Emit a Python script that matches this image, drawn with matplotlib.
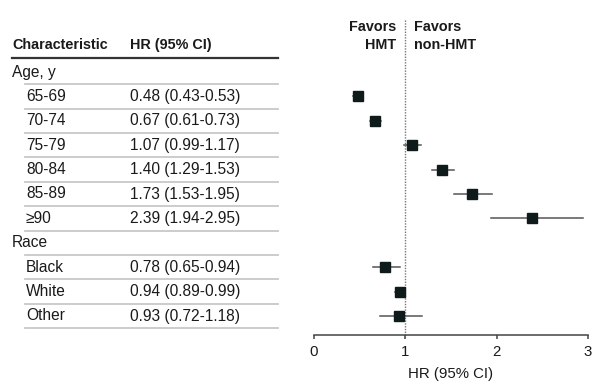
import matplotlib.pyplot as plt
from matplotlib.lines import Line2D
from matplotlib.transforms import blended_transform_factory
from matplotlib import font_manager

# data
labels = ['65-69', '70-74', '75-79', '80-84', '85-89', '\u226590', 'Black', 'White', 'Other']
groups = ['Age, y', 'Race']
group_sizes = [6, 3]
hr = [0.48, 0.67, 1.07, 1.40, 1.73, 2.39, 0.78, 0.94, 0.93]
lo = [0.43, 0.61, 0.99, 1.29, 1.53, 1.94, 0.65, 0.89, 0.72]
hi = [0.53, 0.73, 1.17, 1.53, 1.95, 2.95, 0.94, 0.99, 1.18]
x_ticks = [0, 1, 2, 3]

names = {f.name for f in font_manager.fontManager.ttflist}
fam = 'Liberation Sans Narrow' if 'Liberation Sans Narrow' in names else 'Liberation Sans'
plt.rcParams['font.family'] = [fam, 'DejaVu Sans']

txt = '#1a1a1a'
fs = 11.2   # body text
hfs = 10.4  # bold headers
afs = 10.8  # axis text
fig = plt.figure(figsize=(6, 3.87), dpi=100)
ax = fig.add_axes([314 / 600, 52 / 387, 274 / 600, 335 / 387])
ax.set_xlim(0, 3)
ax.set_ylim(335, 0)  # y in pixel rows from top

# build row list
rows = []
k = 0
for g, n in zip(groups, group_sizes):
    rows.append(('group', g, None))
    for j in range(n):
        rows.append(('item', labels[k], k))
        k += 1

row_h = 24.4
y0 = 72
tr = blended_transform_factory(fig.transFigure, ax.transData)

# header
fig.text(12 / 600, 1 - 45 / 387, 'Characteristic', fontsize=hfs, fontweight='bold', color=txt, va='center')
fig.text(130 / 600, 1 - 45 / 387, 'HR (95% CI)', fontsize=hfs, fontweight='bold', color=txt, va='center')
fig.add_artist(Line2D([12 / 600, 278 / 600], [1 - 58 / 387] * 2, color='#333333', lw=1.6))

for i, (kind, name, idx) in enumerate(rows):
    y = y0 + i * row_h
    if kind == 'group':
        ax.text(12 / 600, y, name, transform=tr, fontsize=fs, color=txt, va='center')
    else:
        ax.text(26 / 600, y, name, transform=tr, fontsize=fs, color=txt, va='center')
        ax.text(130 / 600, y, f'{hr[idx]:.2f} ({lo[idx]:.2f}-{hi[idx]:.2f})', transform=tr,
                fontsize=fs, color=txt, va='center')
        ax.plot([lo[idx], hi[idx]], [y, y], color='#555555', lw=1.1, zorder=2)
        ax.plot(hr[idx], y, 's', color='#0f1a1a', ms=7.8, zorder=3)
    ax.add_artist(Line2D([25 / 600, 278 / 600], [y + row_h / 2] * 2, transform=tr,
                         color='#c8c8c8', lw=1.3, clip_on=False))

# reference line and labels
ax.plot([1, 1], [20, 337], color='#777777', lw=1, ls=(0, (1, 1)), zorder=1, clip_on=False)
ax.text(0.9, 27, 'Favors', fontsize=hfs, fontweight='bold', color=txt, ha='right', va='center')
ax.text(0.9, 45, 'HMT', fontsize=hfs, fontweight='bold', color=txt, ha='right', va='center')
ax.text(1.1, 27, 'Favors', fontsize=hfs, fontweight='bold', color=txt, ha='left', va='center')
ax.text(1.1, 45, 'non-HMT', fontsize=hfs, fontweight='bold', color=txt, ha='left', va='center')

for s in ['left', 'right', 'top']:
    ax.spines[s].set_visible(False)
ax.spines['bottom'].set_color('#444444')
ax.spines['bottom'].set_linewidth(1.1)
ax.set_yticks([])
ax.set_xticks(x_ticks)
ax.tick_params(axis='x', direction='out', length=3, width=1.1, colors='#444444', labelsize=afs,
               labelcolor=txt, pad=4)
ax.set_xlabel('HR (95% CI)', fontsize=afs, color=txt, labelpad=6)

fig.savefig('out.png', dpi=100)
